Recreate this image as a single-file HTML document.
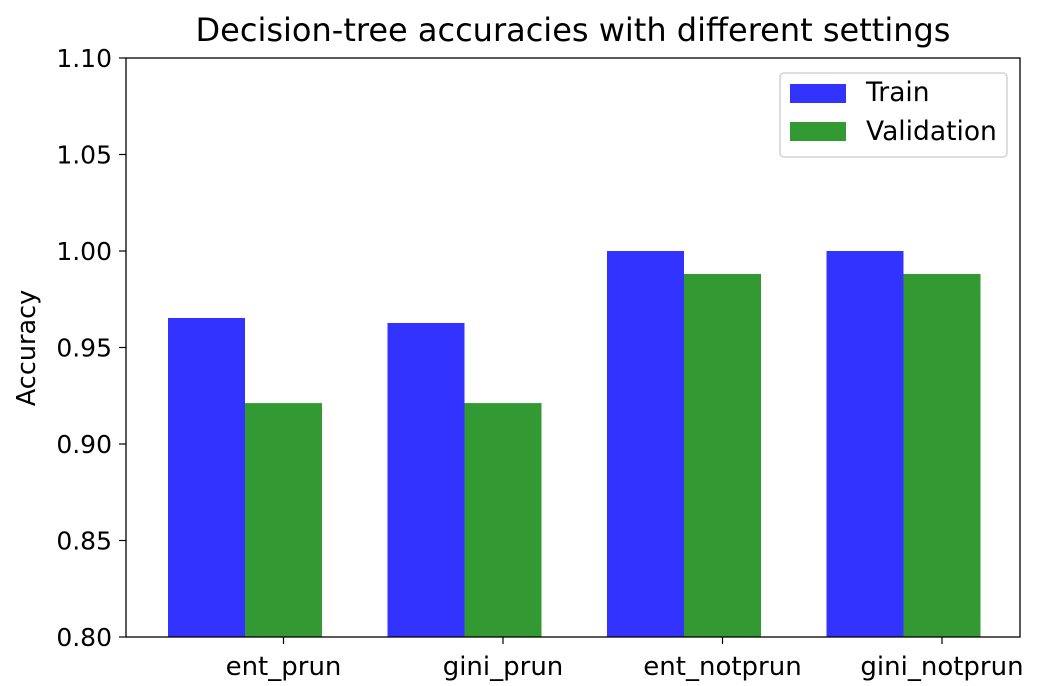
<!DOCTYPE html>
<html><head><meta charset="utf-8"><style>
html,body{margin:0;padding:0;background:#fff;}
svg{display:block;font-family:"DejaVu Sans","Liberation Sans",sans-serif;}
</style></head><body>
<svg id="chart" width="1050" height="686" viewBox="0 0 1050 686">
<text x="573" y="41" font-size="32" text-anchor="middle">Decision-tree accuracies with different settings</text>
<text transform="translate(35,348) rotate(-90)" font-size="25.5" text-anchor="middle">Accuracy</text>
<g id="bars"></g>
<g id="yticks"></g>
<g id="xticks"></g>
<rect x="126" y="58" width="894" height="579" fill="none" stroke="#000" stroke-width="1.3"/>
<g>
<rect x="780" y="73" width="227" height="84" rx="4" fill="#fff" stroke="#ccc" stroke-width="1.3"/>
<rect x="790" y="84" width="56" height="19" fill="#3333ff"/>
<text x="866" y="101" font-size="26.5">Train</text>
<rect x="790" y="122" width="56" height="19" fill="#339933"/>
<text x="866" y="140" font-size="26.5">Validation</text>
</g>
</svg>
<script>
const categories = ["ent_prun","gini_prun","ent_notprun","gini_notprun"];
const trainValues = [0.9653, 0.9627, 1.0, 1.0];
const validationValues = [0.9212, 0.9212, 0.9881, 0.9881];
const yTickLabels = ["0.80","0.85","0.90","0.95","1.00","1.05","1.10"];

const NS="http://www.w3.org/2000/svg";
const yMin=0.80,yMax=1.10,plotTop=58,plotBottom=637;
function yScale(v){return plotBottom-(v-yMin)/(yMax-yMin)*(plotBottom-plotTop);}
const groupStart=168,groupStep=219.5,barW=77;
function xScale(i){return groupStart+i*groupStep;}
const bars=document.getElementById('bars');
function mk(tag,attrs,parent){const e=document.createElementNS(NS,tag);for(const k in attrs)e.setAttribute(k,attrs[k]);parent.appendChild(e);return e;}
categories.forEach((c,i)=>{
  let r=mk('rect',{x:xScale(i),y:yScale(trainValues[i]),width:barW,height:plotBottom-yScale(trainValues[i]),fill:'#3333ff'},bars);
  
  
  let r2=mk('rect',{x:xScale(i)+barW,y:yScale(validationValues[i]),width:barW,height:plotBottom-yScale(validationValues[i]),fill:'#339933'},bars);
  
  
  const xt=document.getElementById('xticks');
  const cx=xScale(i)+barW*1.5;
  let t=mk('line',{x1:cx,x2:cx,y1:plotBottom,y2:plotBottom+7,stroke:'#000','stroke-width':1.2},xt);
  
  
  let l=mk('text',{x:cx,y:plotBottom+38,'font-size':26,'text-anchor':'middle'},xt);
  l.textContent=c;
  
  
});
const yt=document.getElementById('yticks');
yTickLabels.forEach(s=>{
  const v=parseFloat(s),yy=yScale(v);
  let t=mk('line',{x1:119,x2:126,y1:yy,y2:yy,stroke:'#000','stroke-width':1.2},yt);
  
  
  let l=mk('text',{x:112,y:yy+9,'font-size':25,'text-anchor':'end'},yt);
  l.textContent=s;
  
  
});
</script>
</body></html>
